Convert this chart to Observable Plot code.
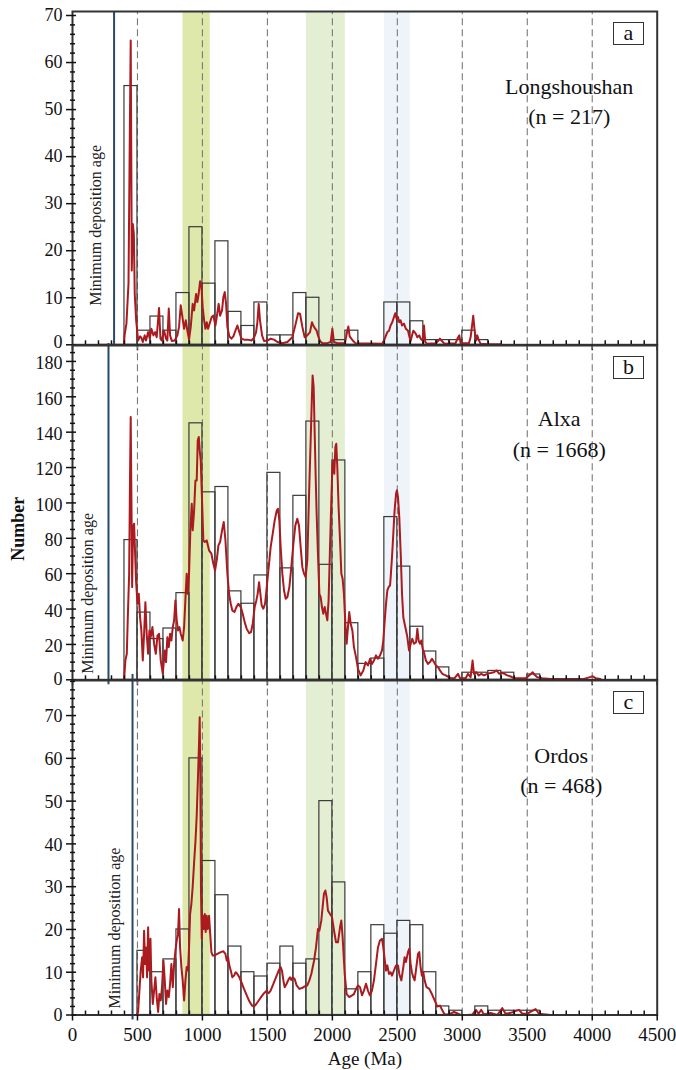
<!DOCTYPE html>
<html><head><meta charset="utf-8">
<script src="https://cdn.jsdelivr.net/npm/d3@7"></script>
<script src="https://cdn.jsdelivr.net/npm/@observablehq/plot@0.6"></script>
<style>
body{margin:0;background:#fff;}
#wrap{position:relative;width:676px;height:1070px;font-family:"Liberation Serif","Times New Roman",serif;}
.lbl{position:absolute;left:613px;width:29px;height:21px;border:1.5px solid #333;font-size:22px;line-height:19px;text-align:center;color:#111;background:#fff;}
</style></head><body><div id="wrap"></div><script>
// ---------- data ----------
const binStart = [400,500,600,700,800,900,1000,1100,1200,1300,1400,1500,1600,1700,1800,1900,2000,2100,2200,2300,2400,2500,2600,2700,2800,2900,3000,3100,3200,3300,3400,3500,3600];
const binWidth = 100;
const countsA = [55,3,6,3,11,25,13,22,7,4,9,2,2,11,10,0,1,3,0,0,9,9,5,1,1,1,3,1,0,0,0,0,0];
const countsB = [79,38,23,29,49,145,106,109,50,43,59,117,63,104,146,65,124,32,9,12,92,64,30,16,7,0,4,4,5,4,0,3,0];
const countsC = [0,15,10,13,20,60,36,28,16,10,9,12,16,12,13,50,31,6,10,21,19,22,21,10,2,1,0,2,1,1,1,1,0];

const curveA = [[200,0],[395,0],[402,2.3],[415,4.5],[431,13],[441,44.8],[448,64.7],[454,30.7],[456,15.8],[464,25.7],[472,23.6],[479,10.8],[490,5.2],[505,0.9],[520,1.8],[530,1.5],[541,0.6],[556,2],[566,0.9],[582,2.7],[595,1.3],[607,3.4],[623,2],[636,2.7],[648,1.6],[666,7.8],[677,1.3],[687,0.9],[705,3],[720,1.3],[730,0.9],[741,7.7],[751,2],[764,0.8],[787,0.9],[807,2],[820,3.8],[833,8.4],[846,5.9],[859,3.4],[872,5.2],[884,3],[897,1.1],[910,3.8],[925,8.7],[936,7.3],[951,10.8],[961,9.1],[971,10.8],[982,13.5],[992,12.6],[1002,8],[1013,5.2],[1023,3.4],[1033,4.8],[1043,3.4],[1059,4.8],[1071,5.9],[1084,6.2],[1100,4.1],[1110,5.9],[1125,8.7],[1136,6.2],[1151,7.3],[1161,10.1],[1172,11.2],[1182,8.7],[1192,3.8],[1207,1.8],[1223,1.3],[1238,1.8],[1254,3],[1269,4.1],[1284,2.7],[1300,1.3],[1320,1.1],[1346,1.1],[1377,0.9],[1397,1.5],[1413,2.7],[1423,4.8],[1433,8.7],[1443,5.2],[1459,2],[1474,0.8],[1500,0.9],[1525,1.3],[1551,1.1],[1577,0.6],[1615,0.35],[1654,0.6],[1692,1.6],[1718,4.5],[1736,6.7],[1751,6.6],[1769,3.8],[1787,1.6],[1807,2],[1828,2.7],[1843,4.8],[1853,4.1],[1864,3.6],[1879,3],[1889,2],[1905,0.8],[1923,0.35],[1961,0.35],[1987,0.6],[2000,3.4],[2012,0.6],[2038,0.35],[2095,0.35],[2105,1.5],[2115,3],[2123,3.9],[2133,1.8],[2146,1.3],[2161,0.8],[2177,0.35],[2384,0.2],[2397,0.9],[2413,2],[2423,2.7],[2436,3],[2448,4.1],[2461,4.8],[2474,5.9],[2484,6.7],[2495,5.5],[2505,5.9],[2515,4.8],[2525,5.2],[2536,4.1],[2551,4.5],[2566,3.4],[2582,3],[2592,1.8],[2602,0.8],[2613,2],[2623,3],[2633,2.7],[2643,2.3],[2654,1.6],[2669,2],[2679,1.3],[2695,0.9],[2705,4.1],[2715,0.6],[2730,0.2],[2795,0.35],[2813,0.8],[2828,1.3],[2843,0.8],[2864,0.2],[2948,0.35],[2966,1.5],[2977,2],[2987,0.35],[3051,0.35],[3064,1.6],[3074,3.8],[3084,6.2],[3095,3],[3105,0.9],[3115,2],[3125,1.1],[3141,0.2],[3192,0.1],[3295,0.1]];

const curveB = [[295,0],[397,0],[407,11],[418,14.7],[425,33.6],[436,60],[443,116.5],[448,148.6],[454,97.7],[459,52.4],[466,86.3],[474,88.2],[482,71.3],[489,56.2],[500,43],[510,48.6],[520,35.4],[530,27.9],[541,10.9],[551,26],[561,43.9],[571,26],[582,14.7],[592,27.9],[602,24.1],[615,29.8],[628,20.4],[641,14.7],[654,25],[666,26],[679,11],[695,3.4],[710,16.6],[720,10],[730,24.1],[741,18.5],[751,26],[761,22.2],[772,29.8],[782,33.6],[792,44.9],[802,33.6],[812,27.9],[823,29.8],[833,26],[848,22.2],[859,29.8],[871,48.6],[879,60],[887,48.6],[897,60],[907,84.5],[918,99.5],[925,84.5],[936,95.8],[946,112.7],[956,112.7],[964,135.4],[972,137.3],[979,129.7],[987,124],[997,101.4],[1007,78.8],[1018,77.9],[1033,78.8],[1051,73.2],[1069,71.3],[1084,65.6],[1097,61.8],[1110,67.5],[1123,76],[1136,77.9],[1151,84.5],[1164,89.2],[1177,78.8],[1192,60],[1205,48.6],[1218,43],[1230,39.2],[1246,38.3],[1261,41.1],[1277,43],[1295,41.1],[1310,37.3],[1325,32.6],[1341,28.8],[1359,26.4],[1374,27],[1387,31.7],[1402,41.1],[1415,44.9],[1425,48.6],[1436,55.2],[1446,48.6],[1456,42],[1469,40.2],[1482,43],[1495,52.4],[1510,63.7],[1525,75],[1541,82.6],[1556,90.1],[1572,95.8],[1582,96.7],[1592,90.1],[1602,75],[1615,60],[1628,50.5],[1641,45.8],[1654,46.8],[1669,52.4],[1684,63.7],[1700,76.9],[1715,87.3],[1730,91.1],[1743,87.3],[1756,75],[1769,63.7],[1782,60],[1794,58.1],[1807,67.5],[1820,103.3],[1833,135.4],[1841,156.1],[1848,172.1],[1856,165.5],[1864,139.1],[1871,116.5],[1879,93.9],[1889,71.3],[1900,48.6],[1910,46.8],[1920,41.1],[1930,37.3],[1941,41.1],[1951,37.3],[1961,33.6],[1971,44.9],[1982,75],[1992,101.4],[2000,120.3],[2007,124],[2015,116.5],[2023,131.6],[2030,133.5],[2038,120.3],[2048,97.7],[2059,78.8],[2069,60],[2079,57.1],[2089,48.6],[2100,31.7],[2110,20.4],[2120,29.8],[2130,38.3],[2141,31.7],[2154,27.9],[2166,18.5],[2182,12.8],[2197,6.2],[2218,2.5],[2238,5.3],[2256,10],[2274,8.1],[2290,11.9],[2305,9],[2320,10.9],[2336,13.8],[2351,11.9],[2367,13.8],[2382,16.6],[2392,22.2],[2403,33.6],[2413,43],[2423,50.5],[2433,52.4],[2444,53.4],[2449,58.1],[2459,69.4],[2469,82.6],[2479,95.8],[2490,105.2],[2497,107.1],[2505,103.3],[2515,92],[2526,71.3],[2536,48.6],[2546,35.4],[2556,31.7],[2567,27.9],[2577,24.1],[2590,16.6],[2603,20.4],[2615,23.2],[2628,20.4],[2644,21.3],[2654,28.8],[2664,22.2],[2674,20.4],[2685,22.2],[2695,17.5],[2705,15.6],[2720,10.9],[2736,9],[2751,10],[2767,11.9],[2782,10],[2797,8.1],[2813,7.2],[2828,5.3],[2846,3.4],[2872,2.5],[2910,0.9],[2941,0.9],[2967,3.4],[2982,0.9],[3026,0.9],[3044,3.4],[3064,1.5],[3079,10.9],[3090,3.4],[3110,4.3],[3126,2.5],[3146,3.4],[3167,2.5],[3192,3.4],[3218,3.8],[3244,4.3],[3264,5.3],[3285,3.4],[3308,3.8],[3326,3.4],[3346,2.5],[3372,1.9],[3397,0.9],[3449,0.9],[3487,0.9],[3520,2.8],[3541,4.3],[3556,2.8],[3577,1.5],[3615,0.9],[3680,0.5],[3936,0.5],[3982,1.5],[4003,2],[4026,0.9],[4064,0.5]];

const curveC = [[495,0],[505,0.7],[515,5.7],[525,10.4],[536,13.5],[543,8.8],[551,19.7],[559,11.9],[566,15.8],[574,8.8],[582,20.5],[589,10.4],[600,17.8],[607,8.1],[618,2.6],[628,5.7],[638,8.8],[648,4.2],[659,0.7],[669,4.9],[679,3.4],[689,6.5],[700,12.7],[710,8.1],[720,2.6],[730,5.7],[741,4.2],[751,7.3],[761,11.9],[772,6.5],[782,11.9],[792,15],[802,17.4],[812,18.9],[820,24.8],[828,15.8],[838,11.2],[848,8.1],[859,3.4],[869,8.1],[879,11.2],[889,10.4],[897,15.8],[905,23.6],[915,26],[925,30],[936,35.7],[946,40.4],[956,46.6],[966,56],[974,63.7],[979,69.6],[984,56],[989,28.7],[995,17.8],[1002,23.2],[1010,20.1],[1018,23.6],[1025,19.4],[1033,23.2],[1041,20.1],[1051,23.2],[1059,19.4],[1069,14.7],[1079,13.9],[1089,13.9],[1115,14.3],[1141,14.7],[1161,14.9],[1177,14.3],[1187,12.7],[1197,13.5],[1207,11.6],[1218,10.4],[1230,8.8],[1243,9.2],[1256,10],[1269,9.6],[1284,8.8],[1300,7.7],[1320,6.1],[1341,4.6],[1361,3.2],[1382,2.2],[1397,2],[1413,2.5],[1433,3.4],[1454,4.3],[1474,5.1],[1492,5.6],[1510,5.1],[1525,5.7],[1546,7.3],[1566,8.8],[1587,10.4],[1602,11.2],[1612,10.4],[1623,8.1],[1633,6.5],[1648,7.3],[1664,8.4],[1674,8.8],[1684,8.2],[1694,8.8],[1710,8.4],[1725,6.9],[1746,6.1],[1766,6.3],[1787,6.7],[1807,6.9],[1823,8.1],[1838,9.6],[1859,12.7],[1874,15.8],[1889,20.1],[1900,19.7],[1915,22.1],[1925,25.2],[1935,28.3],[1946,29.1],[1956,27.5],[1966,24.4],[1982,23.6],[1997,22.9],[2013,19.7],[2028,17],[2043,17],[2059,20.5],[2069,22.1],[2079,18.2],[2095,9.6],[2110,4.9],[2130,4.2],[2151,4.6],[2166,4.9],[2182,6.1],[2197,6.9],[2213,6.5],[2228,4.6],[2243,5.7],[2259,7.3],[2274,5.7],[2289,4.6],[2305,5.7],[2320,8.1],[2336,12],[2351,15.8],[2366,17.4],[2382,17.8],[2392,15.8],[2402,13.1],[2413,10.4],[2423,11.6],[2436,9.6],[2448,10],[2459,9.2],[2474,10.4],[2490,11.6],[2505,11.6],[2515,9.6],[2531,8.1],[2546,11.2],[2556,13.5],[2566,12.4],[2582,14.7],[2592,15.5],[2602,12],[2612,10],[2623,8.8],[2633,8.1],[2643,10.4],[2659,14.3],[2669,14.7],[2679,11.2],[2689,9.2],[2700,10],[2710,8.1],[2725,6.5],[2746,6.1],[2766,4.9],[2787,3.4],[2807,2],[2828,2.2],[2846,1.1],[2864,0.1],[2884,0.1],[2910,0.3],[2936,0.7],[2961,0.4],[2987,0],[3038,0],[3077,0.1],[3105,1.2],[3125,0.3],[3146,1.2],[3166,0.1],[3192,0.3],[3218,0.5],[3269,0],[3308,1.6],[3333,0.3],[3372,0.5],[3436,1.2],[3462,0.3],[3500,0.3],[3564,1.4],[3590,0.3],[3680,0],[4000,0]];

const minAges = [320, 277, 462];
const panelLetters = ["a", "b", "c"];
const regionNames = ["Longshoushan", "Alxa", "Ordos"];
const sampleSizes = ["(n = 217)", "(n = 1668)", "(n = 468)"];
const bandStart = [850, 1800, 2400];
const bandEnd = [1060, 2100, 2600];
const dashAges = [500, 1000, 1500, 2000, 2500, 3000, 3500, 4000];
const xTicks = [0, 500, 1000, 1500, 2000, 2500, 3000, 3500, 4000, 4500];
const yTicksA = [0, 10, 20, 30, 40, 50, 60, 70];
const yTicksB = [0, 20, 40, 60, 80, 100, 120, 140, 160, 180];
const yTicksC = [0, 10, 20, 30, 40, 50, 60, 70];

// ---------- layout / style ----------
const bandColors = ["#dde8aa", "#e4eed3", "#eef4fa"];
const W = 676, ML = 72, MR = 19.3;
const mpp = 4500 / (W - ML - MR);
const FONT = "'Liberation Serif', 'Times New Roman', serif";

const panels = [
  {counts: countsA, curve: curveA, yTicks: yTicksA, minorStep: 2, ymax: 70.85, top: 0, height: 350, mt: 11, mb: 5.7,
   minExt: [0, 0], minDx: -13, minDy: -39, tDx: -88, tDy: 61.4, tLH: 1.36, boxTop: 22, lblDy: 0, zeroDy: -3},
  {counts: countsB, curve: curveB, yTicks: yTicksB, minorStep: 5, ymax: 189, top: 340, height: 345, mt: 5, mb: 5.7,
   minExt: [2, 5], minDx: -15, minDy: -6, tDx: -98, tDy: 57.4, tLH: 1.45, boxTop: 356, lblDy: 2, zeroDy: -1},
  {counts: countsC, curve: curveC, yTicks: yTicksC, minorStep: 2, ymax: 78.2, top: 675, height: 395, mt: 5, mb: 55.5,
   minExt: [6, 5], minDx: -13, minDy: -6.5, tDx: -96, tDy: 61.4, tLH: 1.36, boxTop: 691, lblDy: 1, zeroDy: 0}
];

const wrap = document.getElementById("wrap");

panels.forEach((p, k) => {
  const plotH = p.height - p.mt - p.mb;
  const upp = p.ymax / plotH;
  const bars = binStart.map((s, i) => ({s, c: p.counts[i]})).filter(d => d.c > 0);
  const yMinor = d3.range(0, p.ymax, p.minorStep).filter(v => !p.yTicks.includes(v));
  const xMinor = d3.range(100, 4500, 100).filter(v => v % 500 !== 0);
  const T = {fontFamily: FONT, fill: "#111"};

  const marks = [];
  bandStart.forEach((s, i) => {
    marks.push(Plot.rect([i], {x1: () => s, x2: () => bandEnd[i], y1: () => 0, y2: () => p.ymax, fill: bandColors[i]}));
  });
  marks.push(Plot.ruleX(dashAges, {x: d => d, y1: () => 0, y2: () => p.ymax, stroke: "#7a7a7a", strokeWidth: 1.1, strokeDasharray: "7,4"}));
  marks.push(Plot.rect(bars, {x1: d => d.s, x2: d => d.s + binWidth, y1: () => 0, y2: d => d.c, fill: "none", stroke: "#3a3a3a", strokeWidth: 1.2}));
  marks.push(Plot.ruleX([minAges[k]], {x: d => d, y1: () => -p.minExt[1] * upp, y2: () => p.ymax + p.minExt[0] * upp, stroke: "#2a4868", strokeWidth: 2}));
  marks.push(Plot.text([minAges[k]], {...T, fill: "#222", x: d => d, frameAnchor: "bottom", text: () => "Minimum deposition age", rotate: -90, textAnchor: "start", dx: p.minDx, dy: p.minDy, fontSize: 16}));
  marks.push(Plot.line(p.curve, {x: d => d[0], y: d => d[1], stroke: "#ab1a1f", strokeWidth: 2}));
  marks.push(Plot.frame({stroke: "#333", strokeWidth: 2}));
  // y axis ticks
  marks.push(Plot.ruleY(p.yTicks, {y: d => d, x1: () => -6 * mpp, x2: () => 4 * mpp, stroke: "#111", strokeWidth: 1.5}));
  marks.push(Plot.ruleY(yMinor, {y: d => d, x1: () => -2 * mpp, x2: () => 3 * mpp, stroke: "#111", strokeWidth: 1.5}));
  marks.push(Plot.text(p.yTicks.filter(v => v !== 0), {...T, x: () => 0, y: d => d, text: d => String(d), textAnchor: "end", dx: -10, dy: p.lblDy, fontSize: 18}));
  marks.push(Plot.text([0], {...T, x: () => 0, y: d => d, text: d => String(d), textAnchor: "end", dx: -10, dy: p.zeroDy, fontSize: 18}));
  // x axis ticks
  marks.push(Plot.ruleX(xMinor, {x: d => d, y1: () => 0, y2: () => 4 * upp, stroke: "#111", strokeWidth: 1.5}));
  marks.push(Plot.ruleX(xTicks, {x: d => d, y1: () => -6 * upp, y2: () => 0, stroke: "#111", strokeWidth: 1.5}));
  // title
  marks.push(Plot.text([regionNames[k] + "\n" + sampleSizes[k]], {...T, frameAnchor: "top-right", text: d => d, textAnchor: "middle", lineAnchor: "top", dx: p.tDx, dy: p.tDy, lineHeight: p.tLH, fontSize: 22}));
  if (k === 1) {
    marks.push(Plot.text(["Number"], {...T, frameAnchor: "left", text: d => d, rotate: -90, textAnchor: "middle", dx: -54, dy: 16, fontSize: 18, fontWeight: "bold"}));
  }
  if (k === 2) {
    marks.push(Plot.text(xTicks, {...T, x: d => d, frameAnchor: "bottom", text: d => String(d), lineAnchor: "top", dy: 12, fontSize: 19}));
    marks.push(Plot.text(["Age (Ma)"], {...T, frameAnchor: "bottom", text: d => d, lineAnchor: "top", dy: 36, fontSize: 19}));
  }

  const svg = Plot.plot({
    width: W, height: p.height,
    marginLeft: ML, marginRight: MR, marginTop: p.mt, marginBottom: p.mb,
    x: {domain: [0, 4500], axis: null},
    y: {domain: [0, p.ymax], axis: null},
    style: {background: "transparent", fontFamily: FONT, overflow: "visible"},
    marks
  });
  svg.style.position = "absolute";
  svg.style.left = "0px";
  svg.style.top = p.top + "px";
  wrap.appendChild(svg);

  const box = document.createElement("div");
  box.className = "lbl";
  box.style.top = p.boxTop + "px";
  box.textContent = panelLetters[k];
  wrap.appendChild(box);
});
</script></body></html>
